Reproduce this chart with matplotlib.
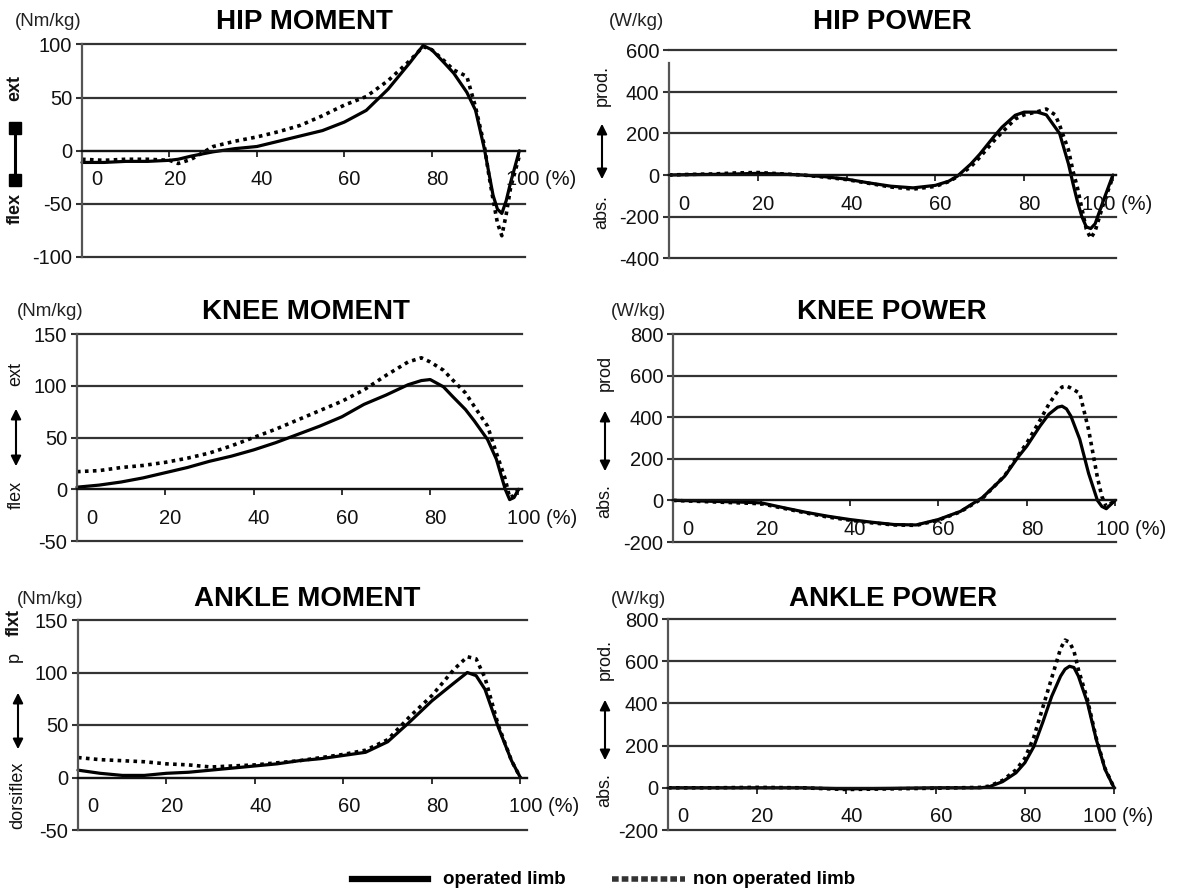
import matplotlib
matplotlib.use("Agg")
import matplotlib.pyplot as plt
from matplotlib.lines import Line2D
from matplotlib.patches import FancyArrowPatch

plt.rcParams['font.family'] = ['Liberation Sans', 'DejaVu Sans']

# ---- data (gait cycle %) ----
hip_m_x = [0, 5, 10, 15, 20, 22, 25, 30, 35, 40, 45, 50, 55, 60, 65, 70, 75, 78, 80, 83,
           85, 88, 90, 92, 93, 94, 95, 96, 97, 98, 100]
hip_m_op = [-11, -11, -10, -10, -9, -8, -5, -1, 2, 4, 9, 14, 19, 27, 38, 58, 83, 99, 95, 82,
            73, 55, 38, 2, -20, -42, -55, -59, -47, -30, 0]
hip_m_non = [-8, -9, -8, -8, -9, -12, -8, 4, 9, 13, 18, 24, 33, 43, 51, 66, 85, 98, 95, 84,
             76, 70, 41, 5, -22, -46, -68, -80, -60, -35, -5]

hip_p_x = [0, 5, 10, 15, 20, 25, 30, 35, 40, 45, 50, 55, 60, 63, 65, 68, 70, 73, 75, 78,
           80, 83, 85, 87, 88, 90, 91, 92, 93, 94, 95, 96, 97, 98, 100]
hip_p_op = [0, 2, 3, 5, 8, 5, 0, -8, -20, -38, -54, -62, -50, -30, -5, 53, 100, 180, 230, 288,
            303, 303, 290, 230, 200, 53, -40, -127, -200, -250, -258, -235, -175, -115, 0]
hip_p_non = [0, 3, 5, 10, 12, 6, 0, -10, -22, -40, -58, -68, -55, -32, -8, 40, 85, 160, 205, 270,
             290, 305, 318, 290, 240, 120, 20, -60, -160, -260, -305, -270, -200, -130, -10]

knee_m_x = [0, 5, 10, 15, 20, 25, 30, 35, 40, 45, 50, 55, 60, 65, 70, 75, 78, 80, 83, 85,
            88, 90, 93, 95, 97, 98, 99, 100]
knee_m_op = [2, 4, 7, 11, 16, 21, 27, 32, 38, 45, 53, 61, 70, 82, 91, 101, 105, 106, 99, 90,
             77, 66, 48, 29, 0, -10, -8, 0]
knee_m_non = [17, 18, 21, 23, 26, 30, 35, 42, 50, 58, 67, 76, 85, 96, 110, 123, 127, 123, 115, 106,
              93, 80, 61, 35, 10, -8, -6, 0]

knee_p_x = [0, 5, 10, 15, 20, 25, 30, 35, 40, 45, 50, 55, 60, 65, 70, 75, 78, 80, 83, 85,
            87, 88, 89, 90, 92, 94, 96, 97, 98, 100]
knee_p_op = [0, -2, -5, -8, -12, -35, -57, -76, -92, -105, -116, -118, -92, -53, 14, 116, 207, 260, 357, 414,
             448, 453, 440, 405, 294, 130, 0, -29, -40, 0]
knee_p_non = [0, -4, -8, -12, -16, -38, -60, -80, -95, -108, -118, -120, -95, -55, 10, 118, 215, 275, 385, 462,
              525, 545, 550, 540, 515, 340, 110, 19, -30, 0]

ankle_m_x = [0, 5, 10, 15, 20, 25, 30, 35, 40, 45, 50, 55, 60, 65, 70, 75, 80, 85, 88, 90,
             92, 95, 98, 100]
ankle_m_op = [7, 4, 2, 2, 4, 5, 7, 9, 11, 13, 16, 18, 21, 24, 34, 53, 73, 90, 100, 97,
              84, 48, 16, 0]
ankle_m_non = [19, 17, 16, 15, 13, 12, 10, 11, 12, 14, 16, 19, 22, 26, 36, 58, 78, 103, 115, 113,
               95, 50, 16, 0]

ankle_p_x = [0, 10, 20, 30, 40, 50, 60, 65, 70, 72, 75, 78, 80, 82, 84, 86, 88, 89, 90, 91,
             92, 94, 96, 98, 100]
ankle_p_op = [0, 0, 0, 0, -5, -3, 0, 0, 0, 5, 29, 71, 119, 195, 310, 433, 529, 562, 576, 570,
              529, 405, 229, 86, 0]
ankle_p_non = [0, 0, 2, 0, -8, -5, -2, 0, 2, 8, 35, 85, 140, 240, 380, 520, 660, 700, 690, 648,
               560, 420, 235, 90, 0]

xtick_vals = [0, 20, 40, 60, 80]

W, H = 1183, 888
fig = plt.figure(figsize=(W / 100, H / 100), dpi=100)


def fx(px):
    return px / W


def fy(py):
    return 1 - py / H


def make_panel(rect, xmax, ylim, yticks, last_x):
    l, r, t, b = rect
    ax = fig.add_axes([fx(l), fy(b), (r - l) / W, (b - t) / H])
    ax.set_xlim(0, xmax)
    ax.set_ylim(*ylim)
    ax.set_yticks(yticks)
    ax.set_yticklabels([str(v) for v in yticks])
    ax.set_xticks(xtick_vals + [100])
    ax.tick_params(axis='x', length=4, width=1.3, direction='out', labelbottom=False, color='#222')
    ax.tick_params(axis='y', length=4, width=1.5, pad=3, labelsize=14.5, color='#333', labelcolor='#111')
    ax.yaxis.grid(True, color='#333', lw=1.6)
    for gl in ax.get_ygridlines():
        gl.set_clip_on(False)
    for s in ['top', 'right']:
        ax.spines[s].set_visible(False)
    ax.spines['bottom'].set_position(('data', 0))
    ax.spines['bottom'].set_color('#111')
    ax.spines['bottom'].set_linewidth(1.6)
    ax.spines['left'].set_color('#555')
    ax.spines['left'].set_linewidth(1.6)
    ax.set_axisbelow(True)
    # x labels sit under the zero line
    for v in xtick_vals:
        dx = 3.4 if v == 0 else 1.2
        ax.annotate(str(v), xy=(v + dx, 0), xytext=(0, -21), textcoords='offset points',
                    ha='center', va='center', fontsize=14.5, color='#111')
    ax.annotate('100 (%)', xy=(last_x, 0), xytext=(0, -21), textcoords='offset points',
                ha='left', va='center', fontsize=14.5, color='#111', annotation_clip=False)
    return ax


def draw(ax, x, op, non):
    ax.plot(x, non, color='black', lw=2.6, linestyle=(0, (1, 1.2)), clip_on=False)
    ax.plot(x, op, color='black', lw=2.3, solid_capstyle='round', clip_on=False)


ax1 = make_panel((82, 525, 44.5, 257), 101.3, (-100, 100), [100, 50, 0, -50, -100], 97)
draw(ax1, hip_m_x, hip_m_op, hip_m_non)
ax2 = make_panel((669, 1116, 50.5, 258), 100.7, (-400, 600), [600, 400, 200, 0, -200, -400], 93)
ax2.spines['left'].set_bounds(-400, 540)
draw(ax2, hip_p_x, hip_p_op, hip_p_non)
ax3 = make_panel((77, 522, 334, 541), 100.8, (-50, 150), [150, 100, 50, 0, -50], 97.4)
draw(ax3, knee_m_x, knee_m_op, knee_m_non)
ax4 = make_panel((673, 1116, 334, 542), 100.2, (-200, 800), [800, 600, 400, 200, 0, -200], 95.7)
draw(ax4, knee_p_x, knee_p_op, knee_p_non)
ax5 = make_panel((78, 527, 620, 830), 101.5, (-50, 150), [150, 100, 50, 0, -50], 97.5)
draw(ax5, ankle_m_x, ankle_m_op, ankle_m_non)
ax6 = make_panel((668, 1115, 619, 830), 100.2, (-200, 800), [800, 600, 400, 200, 0, -200], 93)
draw(ax6, ankle_p_x, ankle_p_op, ankle_p_non)

# titles and units
titles = [('HIP MOMENT', 304, 22), ('HIP POWER', 892, 22),
          ('KNEE MOMENT', 306, 312), ('KNEE POWER', 892, 312),
          ('ANKLE MOMENT', 307, 599), ('ANKLE POWER', 893, 599)]
for txt, px, py in titles:
    fig.text(fx(px), fy(py), txt, ha='center', va='center', fontsize=20, fontweight='bold')

units = [('(Nm/kg)', 48, 22), ('(W/kg)', 637, 22), ('(Nm/kg)', 50, 312),
         ('(W/kg)', 638, 312), ('(Nm/kg)', 50, 599), ('(W/kg)', 638, 599)]
for txt, px, py in units:
    fig.text(fx(px), fy(py), txt, ha='center', va='center', fontsize=13.5, color='#222')


def side(txt, px, py, bold=False):
    fig.text(fx(px), fy(py), txt, rotation=90, ha='center', va='center', fontsize=13,
             fontweight='bold' if bold else 'normal', color='#111')


def arrow(px, y1, y2):
    fig.add_artist(FancyArrowPatch((fx(px), fy(y1)), (fx(px), fy(y2)), transform=fig.transFigure,
                                   arrowstyle='<|-|>', mutation_scale=15, lw=1.5, color='black'))


# hip moment: I-beam marker
side('ext', 15, 88, bold=True)
fig.add_artist(Line2D([fx(15), fx(15)], [fy(128), fy(180)], transform=fig.transFigure,
                      color='black', lw=2.2, marker='s', markersize=8))
side('flex', 15, 209, bold=True)

side('prod.', 602, 86)
arrow(602, 121, 182)
side('abs.', 602, 212)

side('ext', 16, 374)
arrow(16, 406, 469)
side('flex', 16, 495)

side('prod', 605, 373)
arrow(605, 408, 474)
side('abs.', 605, 501)

side('flxt', 14, 623, bold=True)
side('p', 14, 657)
arrow(18, 690, 752)
side('dorsiflex', 18, 795)

side('prod.', 605, 660)
arrow(605, 697, 763)
side('abs.', 605, 790)

# legend
fig.add_artist(Line2D([fx(352), fx(428)], [fy(879), fy(879)], transform=fig.transFigure,
                      color='black', lw=4.5))
fig.text(fx(443), fy(879), 'operated limb', ha='left', va='center', fontsize=13.5, fontweight='bold')
fig.add_artist(Line2D([fx(612), fx(685)], [fy(879), fy(879)], transform=fig.transFigure,
                      color='#333', lw=4, linestyle=(0, (1.2, 0.55)), solid_capstyle='butt',
                      dash_capstyle='butt'))
fig.text(fx(693), fy(879), 'non operated limb', ha='left', va='center', fontsize=13.5, fontweight='bold')

fig.savefig('out.png', dpi=100, facecolor='white')
